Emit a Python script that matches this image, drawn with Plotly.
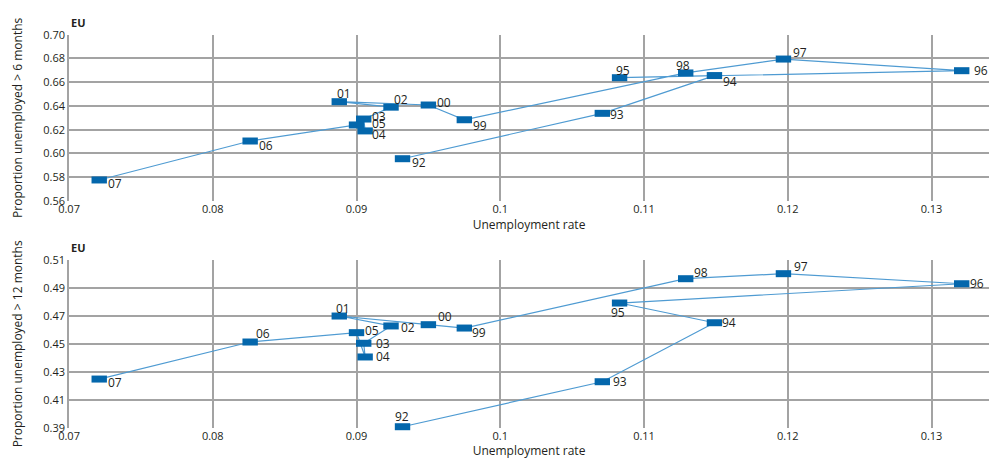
import plotly.graph_objects as go

years = ["92", "93", "94", "95", "96", "97", "98", "99", "00", "01", "02", "03", "04", "05", "06", "07"]
unemp_rate = [0.0932, 0.1071, 0.1149, 0.1083, 0.1321, 0.1197, 0.1129, 0.0975, 0.0950, 0.0888,
              0.0924, 0.0905, 0.0906, 0.0900, 0.0826, 0.0721]
prop_6m = [0.5956, 0.6338, 0.6656, 0.6638, 0.6697, 0.6795, 0.6678, 0.6284, 0.6408, 0.6436,
           0.6390, 0.6290, 0.6190, 0.6240, 0.6105, 0.5777]
prop_12m = [0.3907, 0.4229, 0.4651, 0.4792, 0.4930, 0.5002, 0.4966, 0.4613, 0.4637, 0.4699,
            0.4628, 0.4504, 0.4406, 0.4580, 0.4513, 0.4248]

x_ticks = [0.07, 0.08, 0.09, 0.10, 0.11, 0.12, 0.13]
x_ticktext = ["0.07", "0.08", "0.09", "0.1", "0.11", "0.12", "0.13"]
y6_ticks = [0.56, 0.58, 0.60, 0.62, 0.64, 0.66, 0.68, 0.70]
y12_ticks = [0.39, 0.41, 0.43, 0.45, 0.47, 0.49, 0.51]

# label placement styles (anchor, x-shift px, y-shift px) per point
lab_6m = [("left", 7, -3.5), ("left", 6, -1), ("left", 7, -6), ("center", 3, 7),
          ("left", 10, 0), ("left", 8, 6.5), ("center", -3, 7.5), ("left", 7, -5.5),
          ("left", 7, 3), ("center", 5, 7.7), ("left", 1, 8), ("left", 6, 2.7),
          ("left", 5, -4), ("left", 13, 1), ("left", 7, -4.5), ("left", 7, -4)]
lab_12m = [("center", -1, 10.7), ("left", 9, 0.7), ("left", 6, 0), ("center", -2, -9),
           ("left", 6, 0.7), ("left", 9, 6.7), ("left", 6, 6), ("left", 6, -4),
           ("left", 8, 7.7), ("center", 3.5, 7.5), ("left", 8, -1.5), ("left", 10, 0),
           ("left", 9, 0), ("left", 6, 1.7), ("left", 4, 9), ("left", 7, -3.5)]

LINE_C = "#4f9bd2"
MARK_C = "#0467ac"
GRID_C = "#a3a3a3"
TXT_C = "#231f20"
FONT = "Open Sans, Noto Sans, sans-serif"

fig = go.Figure()
annotations = []

def add(yvals, labs, xa, ya):
    fig.add_trace(go.Scatter(
        x=unemp_rate, y=yvals, mode="lines+markers",
        line=dict(color=LINE_C, width=1.2),
        marker=dict(symbol="line-ew", size=11, line=dict(color=MARK_C, width=7)),
        xaxis=xa, yaxis=ya, showlegend=False, cliponaxis=False, hoverinfo="skip",
    ))
    xref = "x" if xa == "x" else xa
    yref = "y" if ya == "y" else ya
    for xv, yv, t, (anc, dx, dy) in zip(unemp_rate, yvals, years, labs):
        annotations.append(dict(
            x=xv, y=yv, xref=xref, yref=yref, text=t, showarrow=False,
            xanchor=anc, yanchor="middle", xshift=dx, yshift=dy,
            font=dict(size=12, color=TXT_C, family=FONT)))

add(prop_6m, lab_6m, "x", "y")
add(prop_12m, lab_12m, "x2", "y2")

xcommon = dict(range=[0.07, 0.134], tickvals=x_ticks, ticktext=x_ticktext, automargin=False,
               showgrid=True, gridcolor=GRID_C, gridwidth=1.5, zeroline=False,
               showline=False, ticks="", tickfont=dict(size=11, color=TXT_C, family=FONT),
               title=dict(text="Unemployment rate", font=dict(size=12, color=TXT_C, family=FONT),
                          standoff=0))
ycommon = dict(showgrid=True, gridcolor=GRID_C, gridwidth=1.5, zeroline=False, automargin=False,
               showline=True, linecolor=GRID_C, linewidth=1.5, ticks="",
               tickformat=".2f", tickfont=dict(size=11, color=TXT_C, family=FONT))

annotations += [
    dict(text="<b>EU</b>", x=0.0698, y=0.9244, xref="paper", yref="paper",
         xanchor="left", yanchor="bottom", yshift=3, showarrow=False,
         font=dict(size=11, color=TXT_C, family=FONT)),
    dict(text="<b>EU</b>", x=0.0698, y=0.4336, xref="paper", yref="paper",
         xanchor="left", yanchor="bottom", yshift=3, showarrow=False,
         font=dict(size=11, color=TXT_C, family=FONT)),
]

fig.update_layout(
    width=989, height=459,
    margin=dict(l=0, r=0, t=0, b=0),
    paper_bgcolor="white", plot_bgcolor="white",
    font=dict(family=FONT),
    xaxis=dict(domain=[0.0698, 1.0], anchor="y", **xcommon),
    yaxis=dict(domain=[0.5621, 0.9244], anchor="x", range=[0.56, 0.70], tickvals=y6_ticks,
               title=dict(text="Proportion unemployed > 6 months",
                          font=dict(size=12, color=TXT_C, family=FONT), standoff=18),
               **ycommon),
    xaxis2=dict(domain=[0.0698, 1.0], anchor="y2", **xcommon),
    yaxis2=dict(domain=[0.0682, 0.4336], anchor="x2", range=[0.39, 0.51], tickvals=y12_ticks,
                title=dict(text="Proportion unemployed > 12 months",
                           font=dict(size=12, color=TXT_C, family=FONT), standoff=18),
                **ycommon),
    annotations=annotations,
)

fig.write_html("out.html", config={"displayModeBar": False},
               post_script="document.body.style.margin='0';document.body.style.overflow='hidden';")
